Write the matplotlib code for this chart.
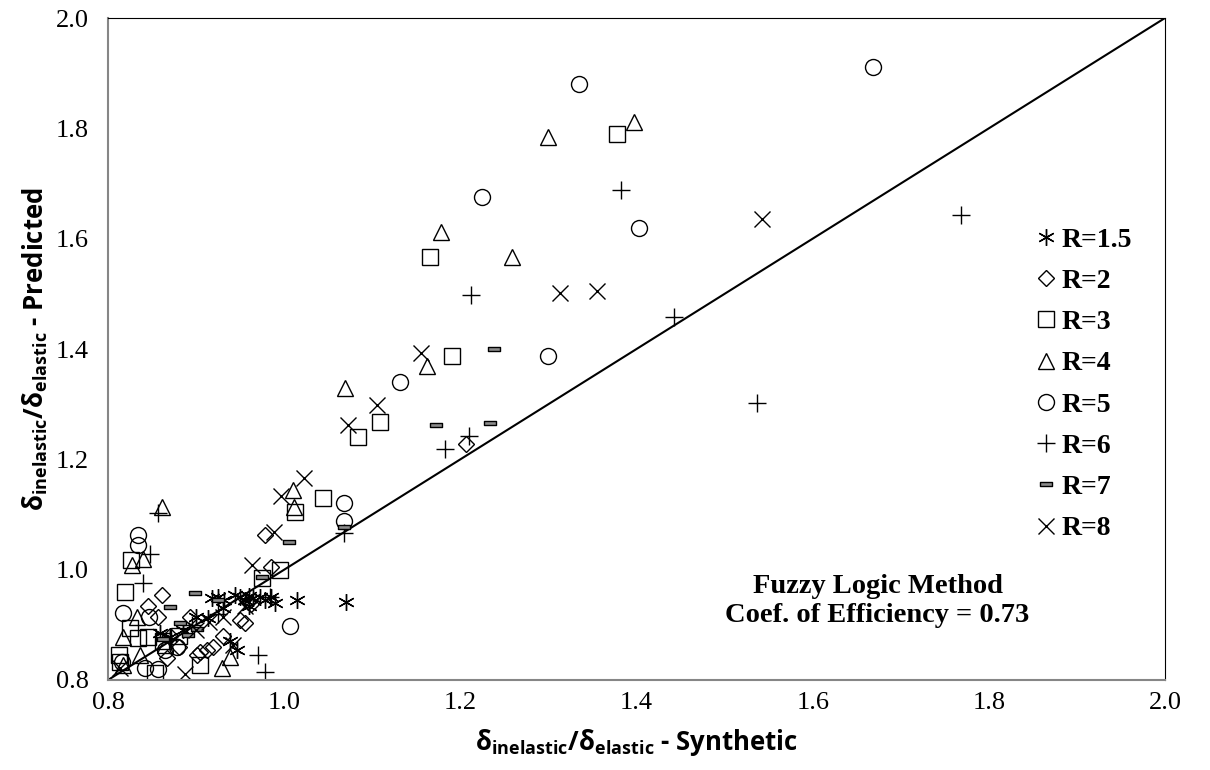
import numpy as np
import matplotlib.pyplot as plt
from matplotlib.path import Path

plt.rcParams['mathtext.fontset'] = 'custom'
plt.rcParams['mathtext.rm'] = 'Open Sans'
plt.rcParams['mathtext.bf'] = 'Open Sans:bold'
plt.rcParams['mathtext.it'] = 'Open Sans:italic'

# data (synthetic vs predicted)
r15_x = [0.859, 0.870, 0.885, 0.900, 0.914, 0.918, 0.925, 0.932, 0.938, 0.944, 0.946, 0.950,
         0.955, 0.960, 0.965, 0.972, 0.978, 0.985, 0.990, 1.015, 1.070, 0.930, 0.960]
r15_y = [0.885, 0.878, 0.890, 0.915, 0.912, 0.948, 0.950, 0.945, 0.870, 0.954, 0.854, 0.950,
         0.945, 0.952, 0.948, 0.950, 0.945, 0.950, 0.940, 0.945, 0.942, 0.930, 0.935]

r2_x = [0.857, 0.861, 0.867, 0.880, 0.893, 0.901, 0.904, 0.912, 0.919, 0.930, 0.950, 0.955,
        0.959, 0.962, 0.985, 0.978, 1.206, 0.870, 0.845]
r2_y = [0.915, 0.954, 0.839, 0.860, 0.915, 0.845, 0.851, 0.854, 0.860, 0.880, 0.909, 0.903,
        0.942, 0.938, 1.005, 1.062, 1.227, 0.880, 0.935]

r3_x = [0.812, 0.814, 0.819, 0.825, 0.826, 0.834, 0.845, 0.853, 0.862, 0.880, 0.904, 0.975,
        0.995, 1.012, 1.044, 1.084, 1.109, 1.190, 1.166, 1.378]
r3_y = [0.845, 0.832, 0.960, 0.894, 1.017, 0.876, 0.878, 0.813, 0.870, 0.880, 0.827, 0.984,
        0.999, 1.105, 1.129, 1.241, 1.268, 1.387, 1.567, 1.790]

r4_x = [0.817, 0.817, 0.827, 0.833, 0.836, 0.840, 0.861, 0.865, 0.929, 0.938, 1.010, 1.011,
        1.069, 1.162, 1.178, 1.259, 1.300, 1.397]
r4_y = [0.827, 0.878, 1.008, 0.915, 0.845, 1.020, 1.114, 0.863, 0.822, 0.842, 1.144, 1.114,
        1.329, 1.369, 1.612, 1.567, 1.784, 1.812]

r5_x = [0.816, 0.817, 0.834, 0.834, 0.842, 0.846, 0.857, 0.865, 0.878, 1.007, 1.068, 1.068,
        1.132, 1.225, 1.300, 1.335, 1.403, 1.668]
r5_y = [0.833, 0.922, 1.062, 1.044, 0.822, 0.915, 0.820, 0.854, 0.860, 0.898, 1.120, 1.088,
        1.340, 1.675, 1.387, 1.880, 1.619, 1.912]

r6_x = [0.840, 0.848, 0.857, 0.870, 0.895, 0.925, 0.970, 0.978, 0.984, 1.068, 1.182, 1.210,
        1.212, 1.382, 1.443, 1.537, 1.768]
r6_y = [0.975, 1.028, 1.103, 0.875, 0.900, 0.920, 0.845, 0.815, 0.951, 1.067, 1.218, 1.243,
        1.497, 1.688, 1.458, 1.302, 1.643]

r7_x = [0.862, 0.870, 0.882, 0.891, 0.899, 0.901, 0.925, 0.975, 1.005, 1.068, 1.172, 1.234, 1.238]
r7_y = [0.875, 0.932, 0.904, 0.882, 0.958, 0.892, 0.945, 0.987, 1.050, 1.077, 1.262, 1.265, 1.400]

r8_x = [0.814, 0.887, 0.900, 0.915, 0.930, 0.942, 0.955, 0.963, 0.988, 0.996, 1.023, 1.072,
        1.105, 1.155, 1.313, 1.355, 1.542]
r8_y = [0.822, 0.811, 0.890, 0.905, 0.915, 0.863, 0.935, 1.008, 1.068, 1.133, 1.167, 1.262,
        1.298, 1.393, 1.502, 1.505, 1.636]

labels = ['R=1.5', 'R=2', 'R=3', 'R=4', 'R=5', 'R=6', 'R=7', 'R=8']
ticks = [0.8, 1.0, 1.2, 1.4, 1.6, 1.8, 2.0]

# flat bar marker for R=7
dash = Path([(-1, -0.28), (1, -0.28), (1, 0.28), (-1, 0.28), (-1, -0.28)],
            [Path.MOVETO, Path.LINETO, Path.LINETO, Path.LINETO, Path.CLOSEPOLY])

styles = [
    {'marker': (6, 2, 0), 'ms': 12, 'mfc': 'none'},
    {'marker': 'D', 'ms': 8, 'mfc': 'none'},
    {'marker': 's', 'ms': 11, 'mfc': 'none'},
    {'marker': '^', 'ms': 12, 'mfc': 'none'},
    {'marker': 'o', 'ms': 11.5, 'mfc': 'none'},
    {'marker': '+', 'ms': 13, 'mfc': 'none'},
    {'marker': dash, 'ms': 9, 'mfc': '#8c8c8c'},
    {'marker': 'x', 'ms': 11.5, 'mfc': 'none'},
]

series = [(r15_x, r15_y), (r2_x, r2_y), (r3_x, r3_y), (r4_x, r4_y),
          (r5_x, r5_y), (r6_x, r6_y), (r7_x, r7_y), (r8_x, r8_y)]

fig = plt.figure(figsize=(12.1, 7.7), dpi=100)
ax = fig.add_axes([0.0893, 0.1169, 0.8735, 0.8597])

ax.plot([0.8, 2.0], [0.8, 2.0], color='black', linewidth=1.5, zorder=1)

for (xs, ys), st, lab in zip(series, styles, labels):
    ax.plot(xs, ys, linestyle='none', marker=st['marker'], markersize=st['ms'],
            markerfacecolor=st['mfc'], markeredgecolor='black', markeredgewidth=1.0,
            label=lab, zorder=2)

ax.set_xlim(0.8, 2.0)
ax.set_ylim(0.8, 2.0)
ax.set_xticks(ticks)
ax.set_yticks(ticks)
ax.set_xticklabels([f'{t:.1f}' for t in ticks], fontfamily='Liberation Serif', fontsize=19)
ax.set_yticklabels([f'{t:.1f}' for t in ticks], fontfamily='Liberation Serif', fontsize=19)
ax.tick_params(axis='both', length=0)
ax.tick_params(axis='x', pad=9)
ax.tick_params(axis='y', pad=14)

for s in ['left', 'bottom']:
    ax.spines[s].set_color('#868686')
    ax.spines[s].set_linewidth(1.5)
for s in ['top', 'right']:
    ax.spines[s].set_color('black')
    ax.spines[s].set_linewidth(0.8)

ax.set_xlabel(r'$\mathbf{\delta_{inelastic}/\delta_{elastic}}$ - Synthetic',
              fontfamily='Open Sans', fontweight='bold', fontsize=18.5, labelpad=9)
ax.set_ylabel(r'$\mathbf{\delta_{inelastic}/\delta_{elastic}}$ - Predicted',
              fontfamily='Open Sans', fontweight='bold', fontsize=18.5, labelpad=4)

ax.text(0.728, 0.119, 'Fuzzy Logic Method\nCoef. of Efficiency = 0.73',
        transform=ax.transAxes, ha='center', va='center', fontfamily='Liberation Serif',
        fontweight='bold', fontsize=20.5, linespacing=1.2)

ax.legend(loc='upper left', bbox_to_anchor=(0.865, 0.701), frameon=False,
          prop={'family': 'Liberation Serif', 'weight': 'bold', 'size': 20},
          handlelength=0.9, handletextpad=0.12, labelspacing=0.57, borderaxespad=0)

fig.savefig('out.png', dpi=100)
